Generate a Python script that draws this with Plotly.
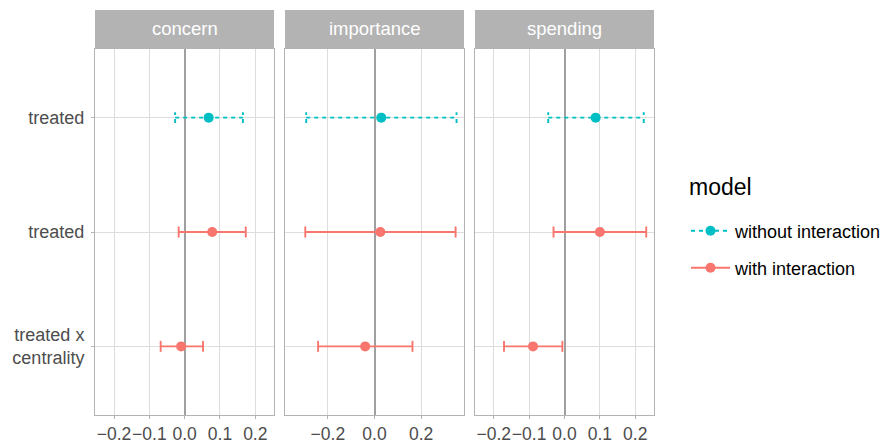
import plotly.graph_objects as go
from plotly.subplots import make_subplots

# ---- data ----
outcomes = ["concern", "importance", "spending"]
term_labels = ["treated", "treated", "treated x<br>centrality"]
row_models = ["without interaction", "with interaction", "with interaction"]
model_levels = ["without interaction", "with interaction"]

concern_est = [0.068, 0.078, -0.010]
concern_lo = [-0.027, -0.017, -0.068]
concern_hi = [0.165, 0.173, 0.052]

importance_est = [0.029, 0.025, -0.040]
importance_lo = [-0.293, -0.297, -0.242]
importance_hi = [0.352, 0.348, 0.163]

spending_est = [0.088, 0.100, -0.089]
spending_lo = [-0.046, -0.031, -0.171]
spending_hi = [0.224, 0.231, -0.006]

estimates = [concern_est, importance_est, spending_est]
lowers = [concern_lo, importance_lo, spending_lo]
uppers = [concern_hi, importance_hi, spending_hi]

# ---- style ----
colors = {"without interaction": "#00BFC4", "with interaction": "#F8766D"}
dashes = {"without interaction": "4px,4px", "with interaction": "solid"}
font_family = "Liberation Sans, Arial, sans-serif"
x_ranges = [[-0.254, 0.253], [-0.384, 0.384], [-0.253, 0.253]]
x_dticks = [0.1, 0.2, 0.1]
row_pos = [3, 2, 1]
cap_half = 0.048

W, H = 892, 441
ml, mr, mt, mb = 95, W - 654, 49, 441 - 415
pw = W - ml - mr
ph = H - mt - mb

fig = make_subplots(rows=1, cols=3, shared_yaxes=False, horizontal_spacing=11 / pw)
domains = [[0, 179 / pw], [190 / pw, 369 / pw], [380 / pw, 1]]

for c in range(3):
    for i in range(3):
        m = row_models[i]
        y = row_pos[i]
        lo, hi, est = lowers[c][i], uppers[c][i], estimates[c][i]
        line = dict(color=colors[m], width=1.9, dash=dashes[m])
        fig.add_trace(go.Scatter(x=[lo, hi], y=[y, y], mode="lines", line=line,
                                 showlegend=False, hoverinfo="skip"), row=1, col=c + 1)
        fig.add_trace(go.Scatter(x=[lo, lo, None, hi, hi],
                                 y=[y - cap_half, y + cap_half, None, y - cap_half, y + cap_half],
                                 mode="lines", line=line, showlegend=False, hoverinfo="skip"),
                      row=1, col=c + 1)
        fig.add_trace(go.Scatter(x=[est], y=[y], mode="markers",
                                 marker=dict(color=colors[m], size=10),
                                 showlegend=False, name=m), row=1, col=c + 1)

# legend entries (each in its own legend box for exact placement)
legend_names = ["legend", "legend2"]
for k, m in enumerate(model_levels):
    fig.add_trace(go.Scatter(x=[None], y=[None], mode="lines+markers", name=m,
                             legend=legend_names[k],
                             line=dict(color=colors[m], width=1.9, dash=dashes[m]),
                             marker=dict(color=colors[m], size=10)), row=1, col=1)

grid = "#DEDEDE"
border = "#B3B3B3"
for c in range(3):
    ax = "xaxis" if c == 0 else f"xaxis{c+1}"
    ay = "yaxis" if c == 0 else f"yaxis{c+1}"
    fig.layout[ax].update(domain=domains[c], range=x_ranges[c], dtick=x_dticks[c], tick0=0,
                          tickformat=".1f", tickangle=0, automargin=False,
                          showgrid=True, gridcolor=grid, gridwidth=1,
                          zeroline=True, zerolinecolor="#A0A0A0", zerolinewidth=2,
                          showline=True, mirror=True, linecolor=border, linewidth=1,
                          ticks="outside", ticklen=3, tickcolor=border,
                          tickfont=dict(size=17.5, color="#4D4D4D", family=font_family))
    fig.layout[ay].update(range=[0.4, 3.6], tickvals=row_pos, automargin=False,
                          ticktext=term_labels if c == 0 else ["", "", ""],
                          showticklabels=(c == 0), showgrid=True, gridcolor=grid, gridwidth=1,
                          zeroline=False, showline=True, mirror=True, linecolor=border,
                          linewidth=1, ticks="outside" if c == 0 else "", ticklen=3,
                          tickcolor=border, ticklabelstandoff=3,
                          tickfont=dict(size=18, color="#4D4D4D", family=font_family))
    xd = "x domain" if c == 0 else f"x{c+1} domain"
    fig.add_shape(type="rect", xref=xd, yref="paper", x0=0, x1=1, y0=1, y1=1 + 39 / ph,
                  fillcolor=border, line=dict(width=0), layer="above")
    fig.add_annotation(xref=xd, yref="paper", x=0.5, y=1 + 20.5 / ph, text=outcomes[c],
                       showarrow=False, font=dict(size=18.5, color="white", family=font_family),
                       xanchor="center", yanchor="middle")

# legend title
fig.add_annotation(xref="paper", yref="paper", x=(687 - ml) / pw, y=(415 - 187) / ph,
                   text="model", showarrow=False, xanchor="left", yanchor="middle",
                   font=dict(size=23, color="black", family=font_family))

leg_common = dict(xanchor="left", yanchor="middle", font=dict(size=18, color="black"),
                  bgcolor="rgba(0,0,0,0)", itemwidth=39)
fig.update_layout(
    width=W, height=H,
    margin=dict(l=ml, r=mr, t=mt, b=mb, autoexpand=False),
    plot_bgcolor="white", paper_bgcolor="white",
    font=dict(family=font_family, size=18, color="black"),
    legend=dict(x=(686 - ml) / pw, y=(415 - 231) / ph, **leg_common),
    legend2=dict(x=(686 - ml) / pw, y=(415 - 268) / ph, **leg_common),
    hovermode=False,
)

fig.write_html("out.html", config={"displayModeBar": False},
               post_script="document.body.style.margin='0';")
